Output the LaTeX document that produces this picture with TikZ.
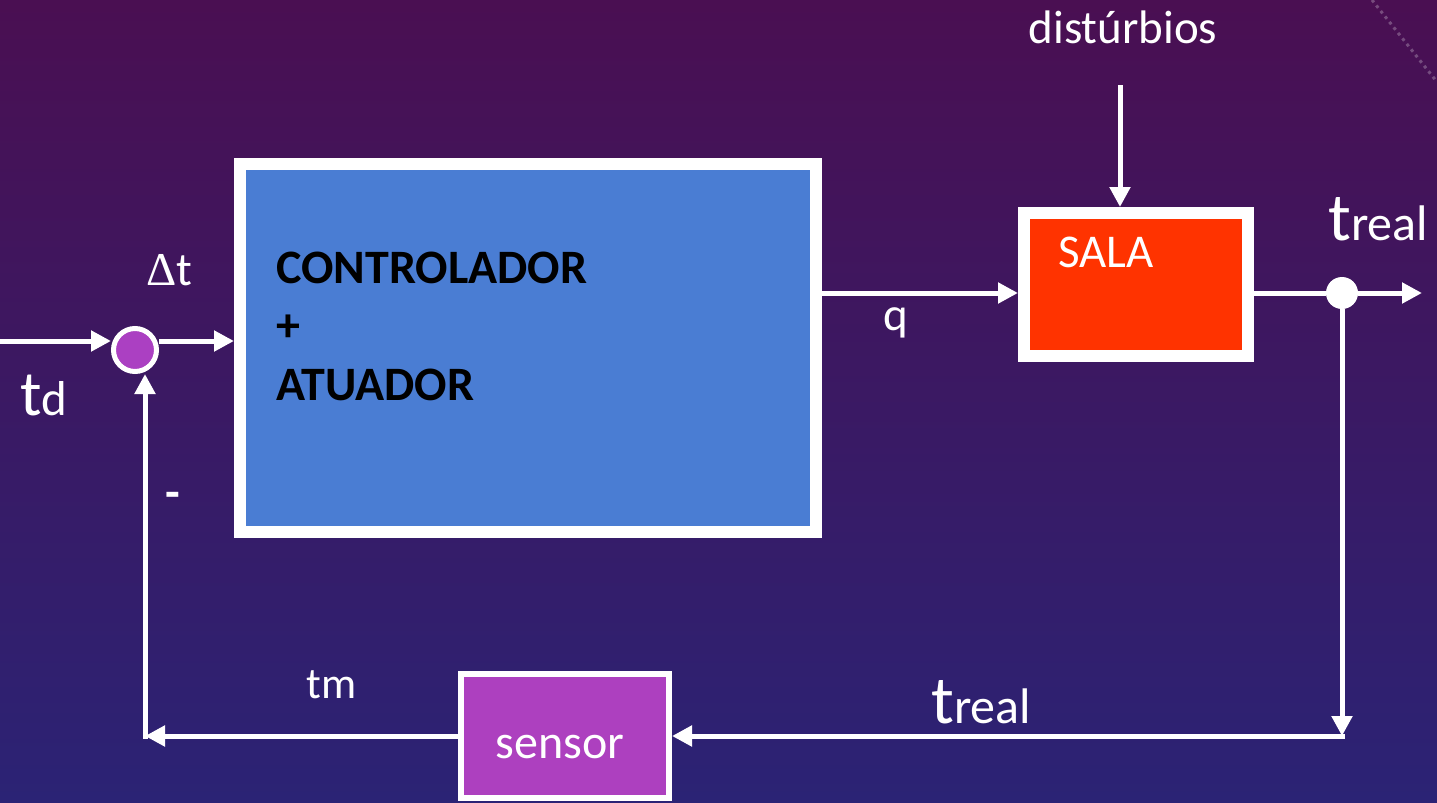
\documentclass[tikz,border=0pt]{standalone}
\usepackage{fontspec}
\setmainfont{Carlito}
\newfontfamily\symf{Liberation Serif}
\usetikzlibrary{arrows.meta}
\definecolor{bgtop}{HTML}{4A0F52}
\definecolor{bgmid}{HTML}{3E1863}
\definecolor{bgbot}{HTML}{2B2375}
\definecolor{ctrlblue}{HTML}{4A7DD3}
\definecolor{salared}{HTML}{FF3300}
\definecolor{senspurple}{HTML}{AD40BF}
\definecolor{sumpurple}{HTML}{AB40C2}
\begin{document}
\begin{tikzpicture}[x=0.5pt,y=-0.5pt,
  wire/.style={draw=white, line width=2.5pt},
  arr/.style={wire, -{Triangle[length=10pt,width=10pt]}},
  lbl/.style={text=white, inner sep=0, anchor=base west, font=\fontsize{23.5}{28}\selectfont},
  ctxt/.style={lbl, text=black, font=\fontsize{24}{28}\selectfont\bfseries},
  blk/.style={draw=white, inner sep=0}]
\shade[top color=bgtop, middle color=bgmid, bottom color=bgbot] (0,0) rectangle (1437,803);
\useasboundingbox (0,0) rectangle (1437,803);
\draw[white, opacity=0.25, line width=1.5pt, dotted] (1372,0) -- (1437,82);

% blocks
\node[blk, line width=6pt, fill=ctrlblue, minimum width=288pt, minimum height=184pt] (ctrl) at (528,348) {};
\node[blk, line width=6pt, fill=salared, minimum width=112pt, minimum height=71.5pt] (sala) at (1136,284.5) {};
\node[blk, line width=3pt, fill=senspurple, minimum width=104pt, minimum height=62pt] (sens) at (565,736) {};
\node[circle, draw=white, line width=2.5pt, fill=sumpurple, minimum size=21.5pt, inner sep=0] (sum) at (135,350) {};
\node[circle, fill=white, minimum size=16pt, inner sep=0] (dot) at (1342,293) {};

% coordinates
\coordinate (tdin) at (0,341);
\coordinate (qy) at (0,293);
\coordinate (fb) at (145,736);
\coordinate (rc) at (1342,736);
\coordinate (out) at (1422,293);
\coordinate (dist) at (1120,85);

% connectors
\draw[arr] (tdin) -- (sum.west |- tdin);
\draw[arr] (sum.east |- tdin) -- (ctrl.west |- tdin);
\draw[arr] (ctrl.east |- qy) -- (sala.west |- qy);
\draw[wire] (sala.east |- qy) -- (dot);
\draw[arr] (dot) -- (out);
\draw[arr] (dot) -- (rc);
\draw[arr, line cap=rect] (rc) -- (sens.east);
\draw[arr] (sens.west) -- (fb);
\draw[arr, line cap=rect] (fb) -- (sum.south -| fb);
\draw[arr] (dist) -- (sala.north -| dist);

% texts
\node[ctxt] (c1) at (276,283) {CONTROLADOR};
\node[ctxt] (c2) at (276,341.5) {+};
\node[ctxt] (c3) at (276,400) {ATUADOR};
\node[lbl] (salat) at (1058,267) {SALA};
\node[lbl, font=\fontsize{24}{28}\selectfont] (senst) at (495,758) {sensor};
\node[lbl, anchor=base] (distt) at (1123,43) {distúrbios};
\node[lbl] (dtt) at (146,285) {{\symf Δ}t};
\node[lbl] (qt) at (883,330) {q};
\node[lbl, font=\fontsize{22}{26}\selectfont] (tmt) at (306,698) {tm};
\node[lbl, font=\fontsize{25}{28}\selectfont] (tr1) at (1328,240) {{\fontsize{34}{38}\selectfont t}real};
\node[lbl, font=\fontsize{25}{28}\selectfont] (tr2) at (931,723) {{\fontsize{34}{38}\selectfont t}real};
\node[lbl] (tdt) at (20,415) {{\fontsize{32}{36}\selectfont t}{\fontsize{24.5}{28}\selectfont d}};
\node[lbl, font=\fontsize{24}{28}\selectfont\bfseries] (minus) at (165,508) {-};
\end{tikzpicture}
\end{document}
